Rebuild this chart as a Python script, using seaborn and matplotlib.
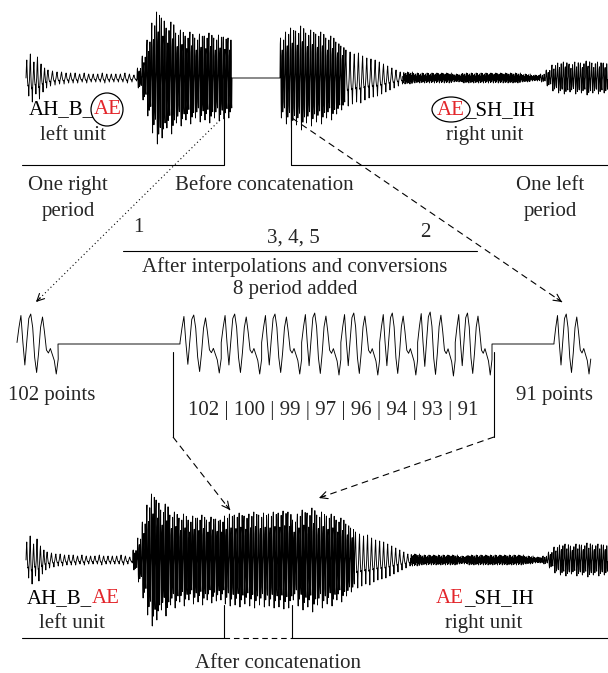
import numpy as np
import pandas as pd
import matplotlib
matplotlib.use("Agg")
import matplotlib.pyplot as plt
from matplotlib.patches import Ellipse
import seaborn as sns

sns.set_theme(style="white")
plt.rcParams["font.family"] = ["Liberation Serif", "DejaVu Serif"]

# cycle shapes (positive = up)
pulse_shape = [0.0, 0.6, 1.0, 0.3, -0.2, -0.45, -0.4, -1.0, -0.3]
voiced_shape = [0.1, 0.85, 1.0, 0.2, -0.65, -1.0, -0.2, 0.55, 0.7,
                -0.3, -0.85, -0.5, 0.3, 0.95, 0.4, -0.6, -0.75, -0.1]
noise_shape = [0.3, -0.8, 0.9, -0.4, 0.6, -1.0, 0.2, 0.8, -0.6, 0.4, -0.9, 1.0]
period_shape = [0.05, 0.55, 0.95, 0.05, -0.7, 0.1, 0.85, 1.0, 0.55, -0.45, -0.95,
                -0.3, 0.55, 0.9, 0.4, -0.2, -0.3, -0.15, -0.35, -0.55, -1.0, -0.5]

# amplitude envelopes (px), one value per block of cycles
burst_amps = [18, 24, 16, 21, 14, 10]
quiet_amps = [8, 7, 6, 6, 5, 5, 5, 4, 5, 4, 4, 4, 5, 4, 4, 4, 4, 5, 4, 3]
left_loud_amps = [10, 22, 38, 55, 66, 60, 50, 56, 45, 48, 42, 46, 40, 44, 42, 45, 40, 43, 41, 40]
right_dense_amps = [40, 46, 50, 47, 52, 45, 48, 44, 46, 40, 42, 36, 32]
right_decay_amps = [28, 26, 24, 25, 22, 20, 19, 18, 16, 14, 12, 10, 8, 6]
noise_amps = [6, 5, 5, 5, 5, 4, 5, 5, 5, 5, 5, 5, 4, 3]
tail_amps = [4, 8, 13, 15, 16, 14, 16, 15, 17, 15, 16, 15]
joined_amps = [44, 46, 45, 47, 44, 46, 48, 45, 47, 46, 48, 47, 49, 48]

# pitch periods (points) of the 8 added periods, and their amplitudes
period_points = [102, 100, 99, 97, 96, 94, 93, 91]
period_amps = [29, 30, 30, 31, 31, 31, 32, 31]
left_period_pts = 102
right_period_pts = 91

RED = "#e3262b"
FS = 15


def block(amps, shape, reps):
    one = np.tile(shape, reps)
    return np.concatenate([a * one for a in amps])


def seg(xa, xb, amps, shape, reps=1):
    ys = block(amps, shape, reps)
    return np.linspace(xa, xb, len(ys)), ys


left_unit = [(26, 47, burst_amps, pulse_shape, 1),
             (47, 137, quiet_amps, pulse_shape, 1),
             (137, 232, left_loud_amps, voiced_shape, 1)]
right_unit = [(280, 345, right_dense_amps, voiced_shape, 1),
              (345, 403, right_decay_amps, pulse_shape, 1),
              (403, 540, noise_amps, noise_shape, 2),
              (540, 608, tail_amps, voiced_shape, 1)]


def trace(parts, lo, hi):
    a, b = parts[0][0], parts[-1][1]
    k = (hi - lo) / (b - a)
    return [seg(lo + (xa - a) * k, lo + (xb - a) * k, amps, shape, reps)
            for xa, xb, amps, shape, reps in parts]


def draw(ax, pieces, center):
    xs = np.concatenate([p[0] for p in pieces])
    ys = np.concatenate([p[1] for p in pieces])
    df = pd.DataFrame({"x": xs, "y": center - ys})
    sns.lineplot(data=df, x="x", y="y", ax=ax, color="black", lw=0.65,
                 sort=False, estimator=None)


fig = plt.figure(figsize=(6.08, 6.73), dpi=100)
ax = fig.add_axes([0, 0, 1, 1])
ax.set_xlim(0, 608)
ax.set_ylim(673, 0)
ax.axis("off")

# --- before concatenation
top = trace(left_unit, 26, 232) + [seg(232, 280, [0], [0, 0])] + trace(right_unit, 280, 608)
draw(ax, top, 78)

# --- after interpolation: single periods and the 8 added periods
scale = (492 - 180) / sum(period_points)
bounds = 180 + np.concatenate([[0], np.cumsum(period_points)]) * scale
mid = [seg(17, 17 + left_period_pts * scale, [30], period_shape), seg(58, 180, [0], [0, 0])]
for i, a in enumerate(period_amps):
    mid.append(seg(bounds[i], bounds[i + 1], [a], period_shape))
mid.append(seg(492, 554, [0], [0, 0]))
mid.append(seg(554, 554 + right_period_pts * scale, [30], period_shape))
draw(ax, mid, 344)

# --- after concatenation
bot = trace(left_unit, 26, 224) + [seg(224, 292, joined_amps, voiced_shape)] + trace(right_unit, 292, 608)
draw(ax, bot, 560)

lk = dict(color="black", lw=0.8)
# brackets
ax.plot([22, 224, 224], [165, 165, 117], **lk)
ax.plot([291, 291, 608], [117, 165, 165], **lk)
ax.plot([123, 477], [251, 251], **lk)
ax.plot([173, 173], [352, 437], **lk)
ax.plot([494, 494], [352, 437], **lk)
ax.plot([22, 224, 224], [638, 638, 605], **lk)
ax.plot([292, 292, 608], [605, 638, 638], **lk)
ax.plot([224, 292], [638, 638], ls=(0, (5, 3.5)), **lk)


def arrow(p0, p1, ls):
    ax.plot([p0[0], p1[0]], [p0[1], p1[1]], ls=ls, **lk)
    d = np.array(p1, float) - np.array(p0, float)
    d /= np.hypot(*d)
    ax.annotate("", xy=p1, xytext=(p1[0] - d[0] * 6, p1[1] - d[1] * 6),
                arrowprops=dict(arrowstyle="->", color="black", lw=0.8,
                                mutation_scale=13, shrinkA=0, shrinkB=0))


arrow((220, 120), (36, 302), (0, (1, 2.5)))
arrow((292, 118), (562, 302), (0, (6, 4)))
arrow((173, 437), (230, 510), (0, (6, 4)))
arrow((494, 437), (319, 498), (0, (6, 4)))

tk = dict(fontsize=FS, va="baseline")


def two_tone(x, y, first, second, first_color, second_color):
    t = ax.text(x, y, first, ha="left", color=first_color, **tk)
    ax.annotate(second, xy=(1, 0), xycoords=t, ha="left", va="bottom",
                fontsize=FS, color=second_color)


two_tone(29, 114, "AH_B_", "AE", "black", RED)
two_tone(437, 115, "AE", "_SH_IH", RED, "black")
ax.add_patch(Ellipse((107, 109.5), 32, 33, fill=False, lw=0.9, color="black"))
ax.add_patch(Ellipse((451, 109.5), 38, 25, fill=False, lw=0.9, color="black"))
ax.text(73, 140, "left unit", ha="center", **tk)
ax.text(485, 140, "right unit", ha="center", **tk)

ax.text(68, 190, "One right", ha="center", **tk)
ax.text(68, 216, "period", ha="center", **tk)
ax.text(264, 190, "Before concatenation", ha="center", **tk)
ax.text(550, 190, "One left", ha="center", **tk)
ax.text(550, 216, "period", ha="center", **tk)

ax.text(138, 232, "1", ha="center", **tk)
ax.text(425, 237, "2", ha="center", **tk)
ax.text(293, 243, "3, 4, 5", ha="center", **tk)
ax.text(295, 272, "After interpolations and conversions", ha="center", **tk)
ax.text(295, 294, "8 period added", ha="center", **tk)

ax.text(52, 400, f"{left_period_pts} points", ha="center", **tk)
ax.text(554, 400, f"{right_period_pts} points", ha="center", **tk)
ax.text(333, 415, " | ".join(str(p) for p in period_points), ha="center", **tk)

two_tone(27, 603, "AH_B_", "AE", "black", RED)
two_tone(436, 603, "AE", "_SH_IH", RED, "black")
ax.text(72, 628, "left unit", ha="center", **tk)
ax.text(484, 628, "right unit", ha="center", **tk)
ax.text(278, 668, "After concatenation", ha="center", **tk)

fig.savefig("out.png", dpi=100)
